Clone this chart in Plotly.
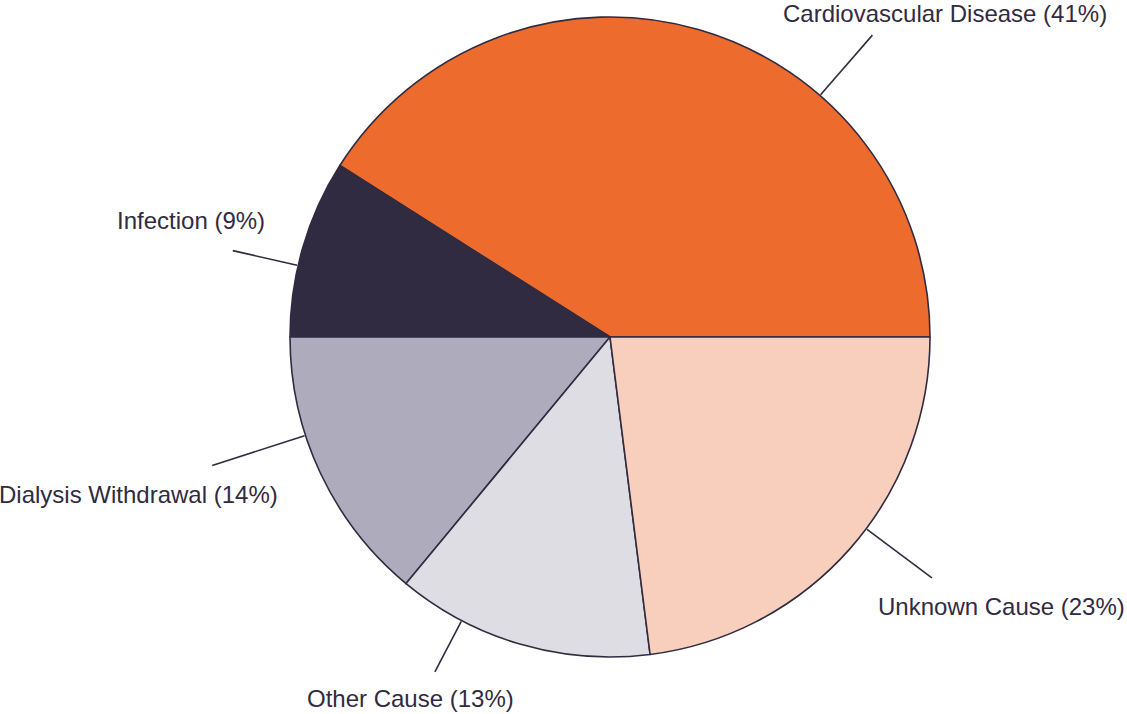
import math
import plotly.graph_objects as go

# ---- data ----
labels = ["Cardiovascular Disease", "Infection", "Dialysis Withdrawal", "Other Cause", "Unknown Cause"]
values = [41, 9, 14, 13, 23]
colors = ["#EC6B2D", "#312B41", "#ADABBC", "#DEDDE3", "#F8CFBC"]

# ---- layout / style ----
W, H = 1127, 714
CX, CY, R = 610, 337, 320
INK = "#312B41"
FONT = "Liberation Sans, Arial, Helvetica, sans-serif"
FS = 24

# label placement style (angle shift from slice mid-angle, leader outer radius,
# text offset from leader end, text anchor)
ang_shift = [-24.8, 3.3, -7.3, -11.4, 4.6]
outer_r = [400, 387, 418, 378, 402]
txt_dx = [-91, 34, 68, -130, -56]
txt_dy = [-22, -30, 29, 27, 29]
txt_anchor = ["left", "right", "right", "left", "left"]

total = sum(values)
# plotly's counterclockwise mode places the first slice ending at `rotation`;
# shift so the first slice starts at 3 o'clock and runs counterclockwise.
rotation = 90 - values[0] / total * 360.0

fig = go.Figure(go.Pie(
    labels=labels, values=values, sort=False,
    direction="counterclockwise", rotation=rotation,
    marker=dict(colors=colors, line=dict(color=INK, width=1.6)),
    textinfo="none", hoverinfo="skip", showlegend=False,
    domain=dict(x=[(CX - R) / W, (CX + R) / W], y=[1 - (CY + R) / H, 1 - (CY - R) / H]),
))

def px2paper(x, y):
    return x / W, 1 - y / H

cum = 0
shapes, annos = [], []
for i, (lab, v) in enumerate(zip(labels, values)):
    mid = (cum + v / 2) / total * 360.0
    cum += v
    a = math.radians(mid + ang_shift[i])
    x0, y0 = CX + (R + 1) * math.cos(a), CY - (R + 1) * math.sin(a)
    x1, y1 = CX + outer_r[i] * math.cos(a), CY - outer_r[i] * math.sin(a)
    p0, p1 = px2paper(x0, y0), px2paper(x1, y1)
    shapes.append(dict(type="line", xref="paper", yref="paper",
                       x0=p0[0], y0=p0[1], x1=p1[0], y1=p1[1],
                       line=dict(color=INK, width=1.6)))
    pct = round(v / total * 100)
    tx, ty = px2paper(x1 + txt_dx[i], y1 + txt_dy[i])
    annos.append(dict(xref="paper", yref="paper", x=tx, y=ty,
                      text=f"{lab} ({pct}%)", showarrow=False,
                      xanchor=txt_anchor[i], yanchor="middle",
                      font=dict(family=FONT, size=FS, color=INK)))

fig.update_layout(
    width=W, height=H, margin=dict(l=0, r=0, t=0, b=0),
    paper_bgcolor="white", plot_bgcolor="white",
    shapes=shapes, annotations=annos,
)
fig.write_html("out.html", config={"displayModeBar": False},
               post_script="document.body.style.margin='0';document.body.style.overflow='hidden';")
